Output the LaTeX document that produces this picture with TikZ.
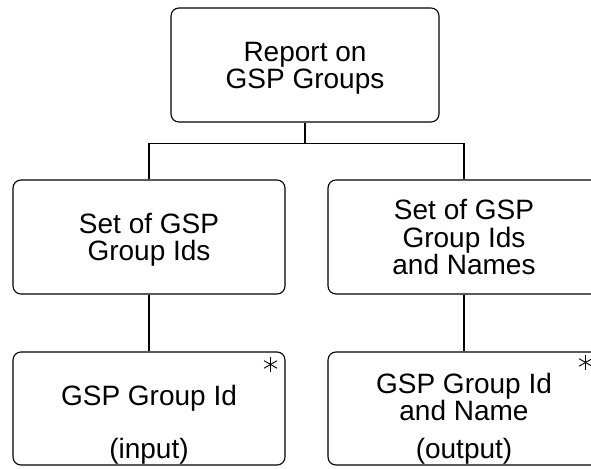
\documentclass[tikz,border=0pt]{standalone}
\usepackage{fontspec}
\setmainfont{Liberation Sans}
\begin{document}
\begin{tikzpicture}[x=1pt,y=-1pt,
  box/.style={draw=black,line width=1.1pt,rounded corners=8pt,inner sep=0pt,minimum height=114pt},
  txt/.style={font=\fontsize{28}{27.5}\selectfont,align=center,inner sep=0pt,anchor=north},
  lbl/.style={font=\fontsize{28}{27.5}\selectfont,inner sep=0pt,anchor=base},
  conn/.style={draw=black,line width=1.1pt},
  astk/.style={draw=black,line width=0.9pt}]
\useasboundingbox (0,0) rectangle (591,468);
\clip (0,0) rectangle (591,468);
% boxes
\node[box,minimum width=268pt] (top) at (305,65) {};
\node[box,minimum width=272pt] (midL) at (149,237) {};
\node[box,minimum width=272pt] (midR) at (464,237) {};
\node[box,minimum width=272pt,minimum height=113pt] (botL) at (149,408.5) {};
\node[box,minimum width=272pt,minimum height=113pt] (botR) at (464,408.5) {};
% texts
\node[txt] (tTop) at (305,42) {Report on\\GSP Groups};
\node[txt] (tMidL) at (149,213) {Set of GSP\\Group Ids};
\node[txt] (tMidR) at (464,199.5) {Set of GSP\\Group Ids\\and Names};
\node[txt] (tBotL) at (149,385) {GSP Group Id};
\node[txt] (tBotR) at (464,373) {GSP Group Id\\and Name};
\node[lbl] (lBotL) at (149,458) {(input)};
\node[lbl] (lBotR) at (464,458) {(output)};
% connectors
\draw[conn] (top.south) -- ++(0,21) coordinate (j);
\draw[conn] (j) -| (midL.north);
\draw[conn] (j) -| (midR.north);
\draw[conn] (midL.south) -- (botL.north);
\draw[conn] (midR.south) -- (botR.north);
% asterisks
\coordinate (a1) at ([shift={(-15,13)}]botL.north east);
\coordinate (a2) at ([shift={(-15,11)}]botR.north east);
\foreach \c in {a1,a2}{
  \foreach \a in {90,30,150}{
    \draw[astk] (\c) ++(\a:7.5) -- ++(\a+180:15);
  }
}
\end{tikzpicture}
\end{document}
